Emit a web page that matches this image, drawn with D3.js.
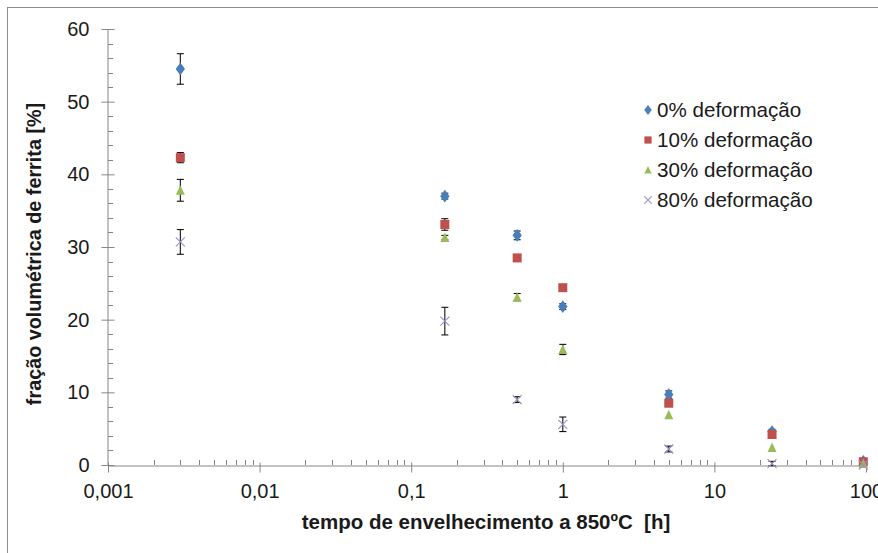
<!DOCTYPE html>
<html>
<head>
<meta charset="utf-8">
<script src="https://cdn.jsdelivr.net/npm/d3@7"></script>
<style>
  body { margin: 0; background: #fff; }
  svg { display: block; font-family: "Liberation Sans", Arial, sans-serif; }
  .tick text { fill: #1a1a1a; font-size: 20px; }
</style>
</head>
<body>
<svg id="chart" width="878" height="553"></svg>
<script>
const times = [0.003, 1 / 6, 0.5, 1, 5, 24, 96];
const seriesNames = ["0% deformação", "10% deformação", "30% deformação", "80% deformação"];
const def0 = [54.5, 37.0, 31.6, 21.8, 9.7, 4.6, 0.5];
const def0Err = [2.1, 0.4, 0.6, 0.4, 0.5, 0.3, 0];
const def10 = [42.3, 33.1, 28.5, 24.4, 8.5, 4.2, 0.45];
const def10Err = [0.7, 0.8, 0, 0, 0, 0, 0];
const def30 = [37.8, 31.3, 23.1, 15.9, 6.9, 2.4, 0.2];
const def30Err = [1.5, 0.3, 0.5, 0.7, 0, 0, 0];
const def80 = [30.7, 19.8, 9.0, 5.6, 2.2, 0.2, 0];
const def80Err = [1.7, 1.9, 0.4, 1.0, 0.4, 0.3, 0];
const xTickLabels = ["0,001", "0,01", "0,1", "1", "10", "100"];
const yTicks = [0, 10, 20, 30, 40, 50, 60];

const series = [
  { name: seriesNames[0], values: def0, err: def0Err, shape: "diamond", color: "#4a7ebb" },
  { name: seriesNames[1], values: def10, err: def10Err, shape: "square", color: "#c0504d" },
  { name: seriesNames[2], values: def30, err: def30Err, shape: "triangle", color: "#9bbb59" },
  { name: seriesNames[3], values: def80, err: def80Err, shape: "cross", color: "#9c8fc4" }
];

const svg = d3.select("#chart");
const axisColor = "#868686";

svg.append("rect")
  .attr("x", 7.5).attr("y", 7.5)
  .attr("width", 880).attr("height", 560)
  .attr("fill", "none").attr("stroke", "#8c8c8c").attr("stroke-width", 1);

const x = d3.scaleLog().domain([0.001, 100]).range([108, 866]);
const y = d3.scaleLinear().domain([0, 60]).range([465, 29]);

// minor ticks
const xMinor = [];
for (let e = -3; e < 2; e++) for (let k = 2; k <= 9; k++) xMinor.push(k * Math.pow(10, e));
svg.append("g").selectAll("line").data(xMinor).join("line")
  .attr("x1", d => Math.round(x(d)) + 0.5).attr("x2", d => Math.round(x(d)) + 0.5)
  .attr("y1", y(0)).attr("y2", y(0) - 5)
  .attr("stroke", axisColor);

const yMinor = d3.range(0, 61, 2).filter(d => d % 10 !== 0);
svg.append("g").selectAll("line").data(yMinor).join("line")
  .attr("x1", x(0.001)).attr("x2", x(0.001) + 5)
  .attr("y1", d => Math.round(y(d)) + 0.5).attr("y2", d => Math.round(y(d)) + 0.5)
  .attr("stroke", axisColor);

const xAxis = svg.append("g")
  .attr("transform", `translate(0,${y(0) + 0.5})`)
  .call(d3.axisBottom(x).tickValues([0.001, 0.01, 0.1, 1, 10, 100])
    .tickFormat((d, i) => xTickLabels[i]).tickSizeInner(7).tickSizeOuter(0).tickPadding(11));
xAxis.selectAll(".tick line").attr("y1", -3);

const yAxis = svg.append("g")
  .attr("transform", `translate(${x(0.001) - 0.5},0)`)
  .call(d3.axisLeft(y).tickValues(yTicks).tickSizeInner(6).tickSizeOuter(0).tickPadding(12));
yAxis.selectAll(".tick line").attr("x1", 7);

svg.selectAll(".domain, .tick line").attr("stroke", axisColor);

// error bars
const errLayer = svg.append("g");
series.forEach(s => {
  times.forEach((t, i) => {
    const e = s.err[i];
    if (!e) return;
    const cx = x(t), top = y(s.values[i] + e), bot = y(s.values[i] - e);
    const g = errLayer.append("g").attr("stroke", "#111").attr("stroke-width", 1.1);
    g.append("line").attr("x1", cx).attr("x2", cx).attr("y1", top).attr("y2", bot);
    g.append("line").attr("x1", cx - 3.5).attr("x2", cx + 3.5).attr("y1", top).attr("y2", top);
    g.append("line").attr("x1", cx - 3.5).attr("x2", cx + 3.5).attr("y1", bot).attr("y2", bot);
  });
});

function marker(g, shape, color, cx, cy, scale) {
  const k = scale || 1;
  if (shape === "diamond") {
    g.append("path").attr("d", d3.symbol(d3.symbolDiamond, 52 * k * k)())
      .attr("transform", `translate(${cx},${cy}) scale(1.2,0.95)`).attr("fill", color);
  } else if (shape === "square") {
    const s = 9 * k;
    g.append("rect").attr("x", cx - s / 2).attr("y", cy - s / 2).attr("width", s).attr("height", s).attr("fill", color);
  } else if (shape === "triangle") {
    const s = 9 * k;
    g.append("path").attr("d", `M${cx},${cy - s / 2 - 0.5}L${cx + s / 2},${cy + s / 2}L${cx - s / 2},${cy + s / 2}Z`).attr("fill", color);
  } else {
    const s = 4.5 * k;
    g.append("path").attr("d", `M${cx - s},${cy - s}L${cx + s},${cy + s}M${cx - s},${cy + s}L${cx + s},${cy - s}`)
      .attr("stroke", color).attr("stroke-width", 1.1).attr("fill", "none");
  }
}

const markLayer = svg.append("g");
series.forEach(s => {
  const g = markLayer.append("g");
  times.forEach((t, i) => marker(g, s.shape, s.color, x(t), y(s.values[i])));
});

// legend
const legend = svg.append("g").attr("transform", "translate(648,110)");
series.forEach((s, i) => {
  const g = legend.append("g").attr("transform", `translate(0,${i * 30})`);
  marker(g, s.shape, s.color, 0, 0, 0.8);
  g.append("text").attr("x", 9).attr("y", 7).attr("font-size", 20.6).attr("fill", "#1a1a1a").text(s.name);
});

// axis titles
svg.append("text")
  .attr("x", 486).attr("y", 529).attr("text-anchor", "middle")
  .attr("font-size", 20.5).attr("font-weight", "bold").attr("fill", "#1a1a1a")
  .style("white-space", "pre")
  .text("tempo de envelhecimento a 850ºC  [h]");

svg.append("text")
  .attr("transform", "translate(41,254) rotate(-90)").attr("text-anchor", "middle")
  .attr("font-size", 19.8).attr("font-weight", "bold").attr("fill", "#1a1a1a")
  .text("fração volumétrica de ferrita [%]");
</script>
</body>
</html>
